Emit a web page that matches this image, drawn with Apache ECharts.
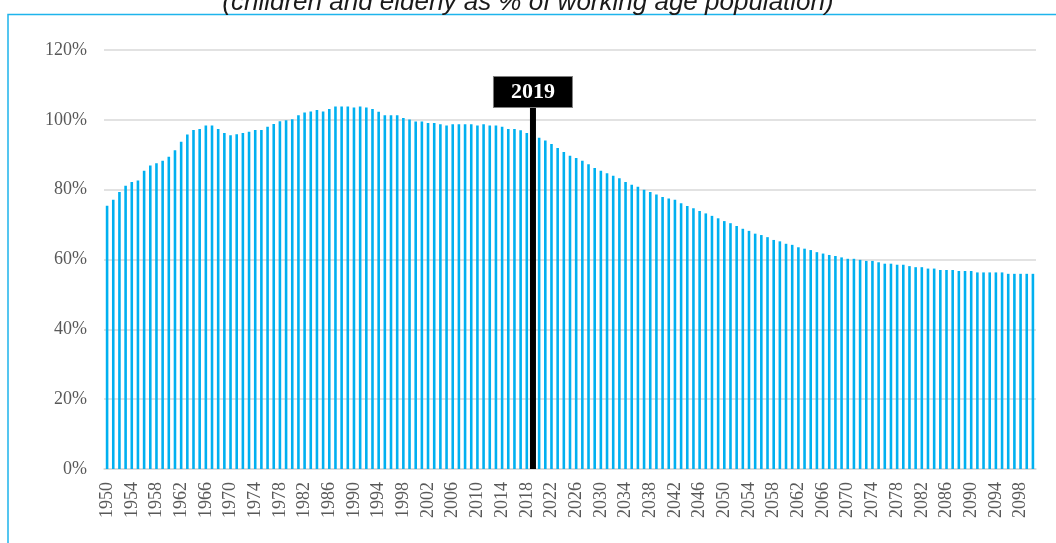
<!DOCTYPE html>
<html>
<head>
<meta charset="utf-8">
<script src="https://cdn.jsdelivr.net/npm/echarts@6/dist/echarts.min.js"></script>
<style>
  html, body { margin: 0; padding: 0; background: #fff; }
  #chart { width: 1056px; height: 543px; }
</style>
</head>
<body>
<div id="chart"></div>
<script>
/* Dependency ratio 1950-2100 (children and elderly as % of working age) */

const years = [];
for (let y = 1950; y <= 2100; y++) years.push(String(y));

// values, one per year
const ratio1950s = [75.4, 77.1, 79.3, 81.1, 82.2, 82.6, 85.4, 86.9, 87.6, 88.3];
const ratio1960s = [89.4, 91.3, 93.7, 95.8, 97.1, 97.4, 98.4, 98.4, 97.4, 96.2];
const ratio1970s = [95.6, 95.9, 96.2, 96.6, 97.1, 97.1, 98.0, 98.8, 99.6, 99.9];
const ratio1980s = [100.2, 101.3, 102.1, 102.4, 102.8, 102.4, 103.1, 103.8, 103.8, 103.8];
const ratio1990s = [103.5, 103.8, 103.5, 103.1, 102.3, 101.3, 101.3, 101.3, 100.5, 100.1];
const ratio2000s = [99.5, 99.5, 99.1, 99.1, 98.7, 98.4, 98.7, 98.7, 98.7, 98.7];
const ratio2010s = [98.4, 98.7, 98.4, 98.4, 98.0, 97.4, 97.4, 97.0, 96.2, 95.6];
const ratio2020s = [94.9, 94.1, 93.1, 91.9, 90.8, 89.7, 89.1, 88.3, 87.3, 86.2];
const ratio2030s = [85.4, 84.7, 84.0, 83.3, 82.2, 81.4, 80.8, 80.0, 79.3, 78.6];
const ratio2040s = [77.9, 77.5, 77.1, 76.1, 75.3, 74.7, 73.9, 73.2, 72.5, 71.8];
const ratio2050s = [71.0, 70.4, 69.6, 68.8, 68.2, 67.4, 67.0, 66.4, 65.6, 65.2];
const ratio2060s = [64.5, 64.2, 63.5, 63.1, 62.7, 62.1, 61.7, 61.3, 61.0, 60.6];
const ratio2070s = [60.2, 60.2, 59.9, 59.6, 59.6, 59.2, 58.8, 58.8, 58.5, 58.5];
const ratio2080s = [58.1, 57.8, 57.8, 57.4, 57.4, 57.0, 57.0, 57.0, 56.7, 56.7];
const ratio2090s = [56.7, 56.3, 56.3, 56.3, 56.3, 56.3, 55.9, 55.9, 55.9, 55.9];
const ratio2100 = [55.9];

const ratio = [].concat(ratio1950s, ratio1960s, ratio1970s, ratio1980s, ratio1990s,
  ratio2000s, ratio2010s, ratio2020s, ratio2030s, ratio2040s, ratio2050s,
  ratio2060s, ratio2070s, ratio2080s, ratio2090s, ratio2100);

// current-year marker
const markerYear = "2019";
const markerHeight = 103.7;

const yTicks = [0, 20, 40, 60, 80, 100, 120];

const titleText = "(children and elderly as % of working age population)";

const COLORS = {
  bar: "#00B0F0",
  frame: "#1EB4EC",
  grid: "#D9D9D9",
  label: "#595959",
  marker: "#000000",
};

const SERIF = "'Times New Roman', 'Liberation Serif', serif";

const chart = echarts.init(document.getElementById("chart"), null, { renderer: "canvas" });

const markerData = years.map(y => (y === markerYear ? markerHeight : null));

chart.setOption({
  animation: false,
  title: {
    text: titleText,
    left: "center",
    top: -15,
    textStyle: {
      fontFamily: "Arial, 'Liberation Sans', sans-serif",
      fontStyle: "italic",
      fontWeight: "normal",
      fontSize: 26,
      color: "#1a1a1a",
    },
  },
  graphic: [
    {
      type: "polyline",
      silent: true,
      shape: { points: [[8, 543], [8, 14.5], [1056, 14.5]] },
      style: { stroke: COLORS.frame, lineWidth: 1.5, fill: null },
    },
  ],
  grid: { left: 104, right: 20, top: 50, bottom: 74 },
  xAxis: [
    {
      type: "category",
      data: years,
      axisTick: { show: false },
      axisLine: { lineStyle: { color: COLORS.grid, width: 1.5 } },
      axisLabel: {
        interval: 3,
        rotate: 90,
        margin: 13,
        color: COLORS.label,
        fontFamily: SERIF,
        fontSize: 18,
      },
    },
    {
      type: "category",
      data: years,
      show: false,
    },
  ],
  yAxis: {
    type: "value",
    min: yTicks[0],
    max: yTicks[yTicks.length - 1],
    interval: 20,
    axisLine: { show: false },
    axisTick: { show: false },
    splitLine: { lineStyle: { color: COLORS.grid, width: 1.5 } },
    axisLabel: {
      formatter: "{value}%",
      margin: 17,
      color: COLORS.label,
      fontFamily: SERIF,
      fontSize: 18,
    },
  },
  series: [
    {
      type: "bar",
      data: ratio,
      barWidth: "42%",
      itemStyle: { color: COLORS.bar },
    },
    {
      type: "bar",
      xAxisIndex: 1,
      data: markerData,
      barWidth: 6,
      itemStyle: { color: COLORS.marker },
      label: {
        show: true,
        position: "top",
        distance: 0,
        formatter: "{b}",
        backgroundColor: COLORS.marker,
        borderColor: "#7f7f7f",
        borderWidth: 1,
        padding: [4, 17, 3, 17],
        color: "#ffffff",
        fontFamily: SERIF,
        fontWeight: "bold",
        fontSize: 22,
        lineHeight: 23,
      },
    },
  ],
});
</script>
</body>
</html>
